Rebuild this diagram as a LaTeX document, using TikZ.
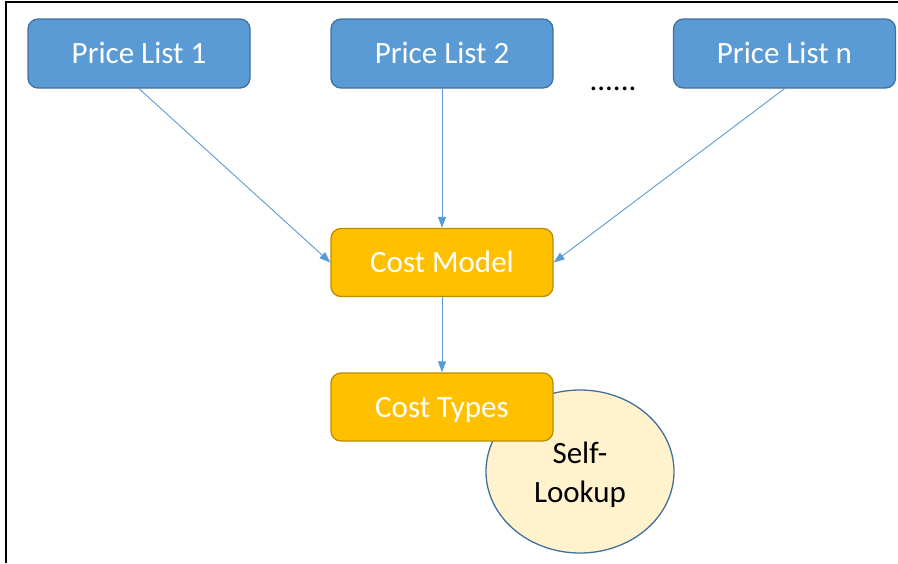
\documentclass[tikz,border=0pt]{standalone}
\usepackage{fontspec}
\setmainfont{Carlito}
\usetikzlibrary{shapes.geometric,arrows.meta}
\definecolor{boxblue}{HTML}{5B9BD5}
\definecolor{boxblueline}{HTML}{41719C}
\definecolor{boxorange}{HTML}{FFC000}
\definecolor{boxorangeline}{HTML}{BC8C00}
\definecolor{lookupfill}{HTML}{FFF2CC}
\tikzset{
  pricebox/.style={draw=boxblueline, fill=boxblue, line width=1.3pt, rounded corners=10pt,
    minimum width=222pt, minimum height=69pt, inner sep=0pt, text=white,
    text height=20pt, text depth=0pt,
    font=\fontsize{31}{38}\selectfont},
  costbox/.style={draw=boxorangeline, fill=boxorange, line width=1.3pt, rounded corners=10pt,
    minimum width=222pt, minimum height=68pt, inner sep=0pt, text=white,
    text height=20pt, text depth=0pt,
    font=\fontsize{31}{38}\selectfont},
  lookup/.style={ellipse, draw=boxblueline, fill=lookupfill, line width=1.3pt,
    minimum width=188pt, minimum height=163pt, inner sep=0pt},
  lookuptext/.style={inner sep=0pt, align=center, font=\fontsize{31}{39}\selectfont},
  conn/.style={draw=boxblue, line width=0.9pt, -{Triangle[length=11pt,width=8pt]}}
}
\begin{document}
\begin{tikzpicture}[x=1pt,y=-1pt]
\useasboundingbox (0,0) rectangle (898,563);
\draw[line width=1.6pt] (6,563) -- (6,2) -- (898,2);
\node[pricebox] (p1) at (139,53.5) {Price List 1};
\node[pricebox] (p2) at (442,53.5) {Price List 2};
\node[pricebox] (pn) at (784.5,53.5) {Price List n};
\node[font=\fontsize{31}{38}\selectfont, anchor=base, inner sep=0pt] (dots) at (613,90) {......};
\node[costbox] (cm) at (442,262.5) {Cost Model};
\node[lookup] (sl) at (580,471.5) {};
\node[lookuptext] (slt) at (580,474.5) {Self-\\Lookup};
\node[costbox] (ct) at (442,407) {Cost Types};
\draw[conn] (p1.south) -- (cm.west);
\draw[conn] (p2.south) -- (cm.north);
\draw[conn] (pn.south) -- (cm.east);
\draw[conn] (cm.south) -- (ct.north);
\end{tikzpicture}
\end{document}
